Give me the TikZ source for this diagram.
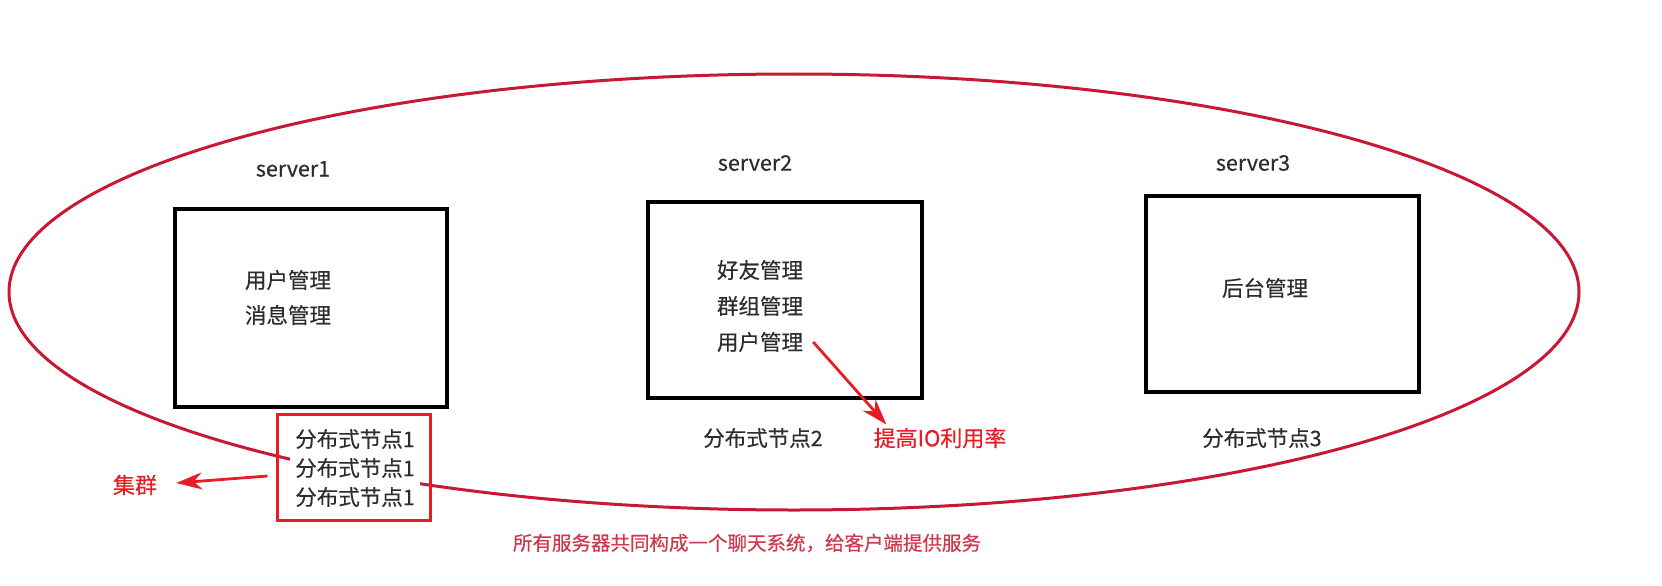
\documentclass[tikz,border=0pt]{standalone}
\usepackage{fontspec}
\setmainfont{Noto Sans CJK SC}[FakeBold=0.35]
\usetikzlibrary{arrows.meta}
\definecolor{ellred}{RGB}{200,24,52}
\definecolor{brightred}{RGB}{232,28,36}
\definecolor{captred}{RGB}{208,56,76}
\definecolor{txt}{RGB}{45,45,45}
\begin{document}
\begin{tikzpicture}[x=1pt,y=-1pt,
  lbl/.style={inner sep=0pt, text=txt, font=\fontsize{21.5}{26}\selectfont},
  redlbl/.style={inner sep=0pt, text=brightred, font=\fontsize{22}{26}\selectfont},
  serverbox/.style={draw=black, line width=3.5pt, inner sep=0pt},
  redarrow/.style={draw=brightred, line width=2.8pt, -{Stealth[length=26pt,width=17pt]}}]
\useasboundingbox (0,0) rectangle (1662,586);
\fill[white] (0,0) rectangle (1662,586);

% enclosing ellipse
\draw[ellred, line width=3pt] (794,292) ellipse [x radius=785pt, y radius=218pt];

% server titles
\node[lbl] (s1) at (293,169) {server1};
\node[lbl] (s2) at (755,163) {server2};
\node[lbl] (s3) at (1253,163) {server3};

% server boxes
\node[serverbox, minimum width=272pt, minimum height=198pt] (box1) at (311,308) {};
\node[serverbox, minimum width=274pt, minimum height=196pt] (box2) at (785,300) {};
\node[serverbox, minimum width=273pt, minimum height=196pt] (box3) at (1282.5,294) {};

% box contents
\node[lbl] (b1a) at (288,280) {用户管理};
\node[lbl] (b1b) at (288,315) {消息管理};
\node[lbl] (b2a) at (760,270) {好友管理};
\node[lbl] (b2b) at (760,306) {群组管理};
\node[lbl] (b2c) at (760,342) {用户管理};
\node[lbl] (b3a) at (1265,288) {后台管理};

% node labels
\node[lbl, fill=white, align=center, minimum width=130pt, minimum height=84pt,
      font=\fontsize{21.5}{29}\selectfont] (n1) at (355,468) {分布式节点1\\分布式节点1\\分布式节点1};
\node[draw=brightred, line width=3pt, minimum width=153pt, minimum height=106pt, inner sep=0pt] (rbox) at (353.5,467) {};
\node[lbl] (n2) at (763,438) {分布式节点2};
\node[lbl] (n3) at (1262,438) {分布式节点3};

% red annotations
\node[redlbl] (io) at (940,438) {提高IO利用率};
\node[redlbl] (cluster) at (135,485) {集群};
\node[inner sep=0pt, text=captred, font=\fontsize{19.5}{24}\selectfont] (cap) at (747,543) {所有服务器共同构成一个聊天系统，给客户端提供服务};

% arrows
\draw[redarrow] ([xshift=10pt]b2c.east) -- ([xshift=13pt,yshift=3pt]io.north west);
\draw[redarrow] ([xshift=-8pt,yshift=-9pt]rbox.west) -- ([xshift=19pt,yshift=2pt]cluster.east);
\end{tikzpicture}
\end{document}
